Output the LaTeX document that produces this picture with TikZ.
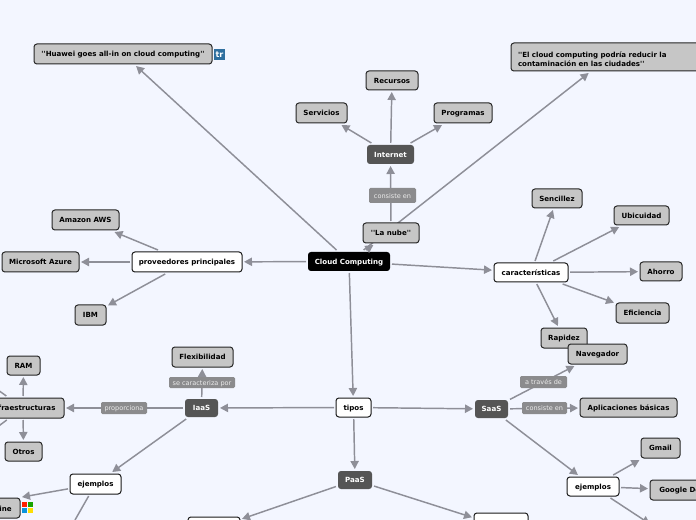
\documentclass[tikz,border=0pt]{standalone}
\usepackage{fontspec}
\defaultfontfeatures[\rmfamily]{}
\setmainfont{DejaVu Sans}
\usetikzlibrary{arrows.meta}
\definecolor{bgc}{HTML}{F3F6FF}
\definecolor{edgec}{HTML}{8E8F98}
\definecolor{greyc}{HTML}{C6C6C6}
\definecolor{darkc}{HTML}{555555}
\definecolor{labc}{HTML}{8B8B8D}
\definecolor{trc}{HTML}{2F6F9F}
\tikzset{
  basebox/.style={rectangle,rounded corners=2.2pt,inner sep=0pt,outer sep=1.5pt,font=\fontsize{5.3}{6.8}\selectfont\bfseries},
  gbox/.style={basebox,draw=black!85,line width=.75pt,fill=greyc,text=black},
  wbox/.style={basebox,draw=black!90,line width=.75pt,fill=white,text=black},
  dbox/.style={basebox,fill=darkc,text=white},
  kbox/.style={basebox,fill=black,text=white},
  lab/.style={rectangle,rounded corners=1pt,inner sep=0pt,fill=labc,text=white!92!black,font=\fontsize{4.9}{6}\selectfont},
  conn/.style={color=edgec,line width=1.1pt,-{Triangle[length=6pt,width=6.2pt]}},
  plain/.style={color=edgec,line width=1.1pt},
}
\newcommand{\bxn}[7]{\node[#1,text height=4.5pt,text depth=.7pt,minimum width={(#5-#3)*0.75pt},minimum height={(#6-#4)*0.75pt}] (#2) at ({(#3+#5)/2},{(#4+#6)/2}) {#7};}
\begin{document}
\begin{tikzpicture}[x=0.75pt,y=-0.75pt]
\useasboundingbox (0,0) rectangle (696,520);
\fill[bgc] (0,0) rectangle (696,520);
\clip (0,0) rectangle (696,520);
% nodes
\bxn{kbox}{cc}{308}{252}{390}{271}{Cloud Computing}
\bxn{gbox}{hw}{34}{44}{212}{64}{''Huawei goes all-in on cloud computing''}
\node[gbox,align=left,text width=182*0.75pt,inner xsep=7*0.75pt,minimum height=28*0.75pt] (ec) at (609,57) {\rule{0pt}{7pt}''El cloud computing podría reducir la\\contaminación en las ciudades''};
\bxn{gbox}{rec}{366}{71}{418}{90}{Recursos}
\bxn{gbox}{ser}{296}{103}{347}{123}{Servicios}
\bxn{gbox}{pro}{434}{103}{492}{123}{Programas}
\bxn{dbox}{int}{367}{145}{414}{164}{Internet}
\bxn{wbox}{car}{494}{263}{568}{282}{características}
\bxn{gbox}{sen}{532}{189}{582}{208}{Sencillez}
\bxn{gbox}{ubi}{614}{206}{669}{225}{Ubicuidad}
\bxn{gbox}{aho}{640}{262}{682}{281}{Ahorro}
\bxn{gbox}{efi}{616}{303}{669}{323}{Eficiencia}
\bxn{gbox}{rap}{541}{328}{587}{348}{Rapidez}
\bxn{wbox}{prov}{132}{252}{242}{272}{proveedores principales}
\bxn{gbox}{aws}{52}{210}{119}{230}{Amazon AWS}
\bxn{gbox}{azu}{2}{252}{79}{272}{Microsoft Azure}
\bxn{gbox}{ibm}{75}{305}{106}{325}{IBM}
\bxn{wbox}{tip}{336}{398}{371}{417}{tipos}
\bxn{dbox}{saas}{475}{400}{508}{418}{SaaS}
\bxn{dbox}{iaas}{185}{399}{218}{417}{IaaS}
\bxn{dbox}{paas}{338}{471}{372}{489}{PaaS}
\bxn{gbox}{nav}{568}{344}{627}{364}{Navegador}
\bxn{gbox}{apl}{580}{398}{677}{417}{Aplicaciones básicas}
\bxn{wbox}{ejr}{567}{477}{619}{496}{ejemplos}
\bxn{gbox}{gma}{641}{438}{680}{458}{Gmail}
\bxn{gbox}{gdo}{650}{480}{718}{500}{Google Docs}
\bxn{gbox}{inf}{-18}{398}{64}{418}{Infraestructuras}
\bxn{gbox}{fle}{172}{347}{233}{367}{Flexibilidad}
\bxn{gbox}{ram}{7}{356}{40}{375}{RAM}
\bxn{gbox}{otr}{5}{442}{42}{461}{Otros}
\bxn{wbox}{ejl}{70}{474}{121}{494}{ejemplos}
\bxn{gbox}{onl}{-100}{498}{20}{518}{}
\node[font=\fontsize{5.3}{6.8}\selectfont\bfseries,anchor=base east,inner sep=0pt] (onlt) at (12,511) {ine};
\bxn{wbox}{pl}{188}{517}{240}{540}{}
\bxn{wbox}{pr}{474}{513}{528}{540}{}
\coordinate (sfa) at (-27,372);
\coordinate (sfb) at (-27,445);
\coordinate (sfc) at (75,520);
\coordinate (sfd) at (650,524);
% connectors
\path[conn] (cc) edge (hw) (cc) edge (ec) (cc) edge (car) (cc) edge (prov) (cc) edge (tip);
\bxn{gbox}{nub}{363}{223}{419}{243}{''La nube''}
\path[conn] (cc) edge (nub) (nub) edge (int) (int) edge (rec) (int) edge (ser) (int) edge (pro);
\path[conn] (car) edge (sen) (car) edge (ubi) (car) edge (aho) (car) edge (efi) (car) edge (rap);
\path[conn] (prov) edge (aws) (prov) edge (azu) (prov) edge (ibm);
\path[conn] (tip) edge (saas) (tip) edge (iaas) (tip) edge (paas);
\path[conn] (saas) edge (nav) (saas) edge (apl) (saas) edge (ejr);
\path[conn] (ejr) edge (gma) (ejr) edge (gdo) (ejr) edge (sfd);
\path[conn] (iaas) edge (inf) (iaas) edge (fle) (iaas) edge (ejl);
\path[conn] (inf) edge (ram) (inf) edge (otr) (ejl) edge (onl);
\path[conn] (paas) edge (pl) (paas) edge (pr);
\path[plain] (ejl) edge (sfc) (inf) edge (sfa) (inf) edge (sfb);
% edge labels
\bxn{lab}{l1}{369}{188}{416}{203}{consiste en}
\bxn{lab}{l2}{520}{376}{567}{388}{a través de}
\bxn{lab}{l3}{522}{402}{567}{414}{consiste en}
\bxn{lab}{l4}{101}{402}{147}{414}{proporciona}
\bxn{lab}{l5}{169}{377}{235}{388}{se caracteriza por}
% icons
\node[rectangle,fill=trc,minimum size=8.25pt,inner sep=0pt,text=white,font=\fontsize{6}{7}\selectfont\bfseries] (tr) at (219.5,54.5) {tr};
\fill[red!75!orange] (22,502) rectangle (27.3,507.3);
\fill[green!60!black!90!yellow] (27.9,502) rectangle (33.2,507.3);
\fill[cyan!80!blue] (22,507.9) rectangle (27.3,513.2);
\fill[yellow!80!orange] (27.9,507.9) rectangle (33.2,513.2);
\end{tikzpicture}
\end{document}
